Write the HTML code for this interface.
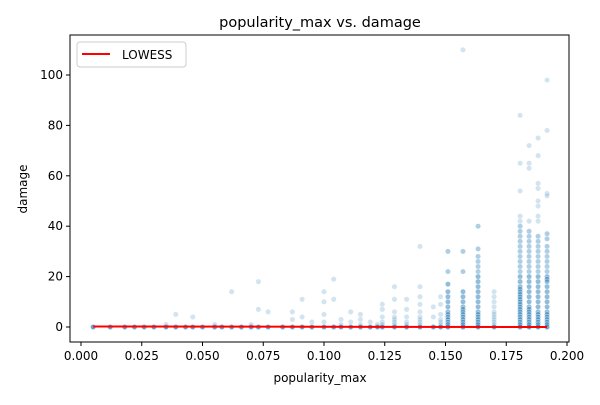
<!DOCTYPE html>
<html><head><meta charset="utf-8"><style>
body{margin:0;background:#fff;font-family:"Liberation Sans","DejaVu Sans",sans-serif}
svg text{font-family:"DejaVu Sans","Liberation Sans",sans-serif}
</style></head><body>
<svg id="c" width="600" height="400" xmlns="http://www.w3.org/2000/svg">
<rect width="600" height="400" fill="#fff"/>
<text x="320" y="27" font-size="14.5" text-anchor="middle">popularity_max vs. damage</text>
<g id="pts"></g><g id="ax"></g>
<rect x="70" y="35" width="499" height="307" fill="none" stroke="#000" stroke-width="1"/>
<text x="320" y="382" font-size="12" text-anchor="middle">popularity_max</text>
<text x="27" y="189" font-size="12" text-anchor="middle" transform="rotate(-90 27 189)">damage</text>
<g>
<rect x="77" y="42" width="109" height="25" rx="3" fill="#fff" stroke="#ccc"/>
<line x1="82" y1="54" x2="110" y2="54" stroke="red" stroke-width="2"/>
<text x="122" y="59" font-size="12">LOWESS</text>
</g>
</svg>
<script>
const xTicks=[0,0.025,0.05,0.075,0.1,0.125,0.15,0.175,0.2];
const xTickLabels=["0.000","0.025","0.050","0.075","0.100","0.125","0.150","0.175","0.200"];
const yTicks=[0,20,40,60,80,100];
const colX=[0.005,0.012,0.018,0.022,0.026,0.03,0.035,0.039,0.043,0.046,0.05,0.055,0.058,0.062,0.066,0.07,0.073,0.077,0.083,0.087,0.091,0.095,0.1,0.104,0.107,0.111,0.115,0.119,0.122,0.124,0.129,0.134,0.1395,0.145,0.148,0.151,0.1572,0.1634,0.170,0.1807,0.1844,0.1881,0.1918];
const colVals=[[0],[0],[0],[0],[0],[0],[0,1],[0,5],[0],[0,4],[0],[0,1],[0],[0,14],[0],[0,1],[0,18,7],[0,6],[0],[0,6,3],[0,11,4],[0,2],[0,14,10,5,2],[0,19,11],[0,3,1],[0,6,2],[0,5,3,1],[0,2],[0,1],[0,9,7,4,2,1],[0,16,11,6,4,3,2,1],[0,11,7,4,2,1],[0,32,16,12,9,6,4,3,2,1],[0,8,4],[0,12,9,5,3,2,1],[0,30,22,17,14,12,10,8,6,5,4,3,2,1],[0,110,30,22,14,12,10,8,7,6,5,4,3,2,1],[0,40,31,28,26,24,22,20,18,16,14,12,10,8,6,5,4,3,2,1],[0,14,12,10,8,6,5,4,3,2,1],[0,84,65,54,44,42,40,38,36,34,32,30,28,26,24,22,20,18,16,15,14,13,12,11,10,9,8,7,6,5,4,3,2,1],[0,72,65,63,42,38,36,34,32,30,28,26,24,22,20,18,16,14,12,10,8,7,6,5,4,3,2,1],[0,75,68,57,55,50,48,44,42,36,34,32,30,28,26,24,22,20,18,16,14,12,10,8,6,5,4,3,2,1],[0,98,78,53,52,37,35,32,30,28,26,24,22,20,19,18,16,14,12,10,8,6,5,4,3,2,1]];
const lowessX=[0.005,0.1918];
const lowessY=[0.2,0.0];
const X=v=>81+v/0.2*486, Y=v=>327-v*2.52;
const ns="http://www.w3.org/2000/svg";
const ax=document.getElementById('ax'), pts=document.getElementById('pts');
function mk(t,a,p){const e=document.createElementNS(ns,t);for(const k in a)e.setAttribute(k,a[k]);p.appendChild(e);return e;}
xTicks.forEach((v,i)=>{
 const g=mk('g',{},ax);
 
 
 mk('line',{x1:X(v),x2:X(v),y1:342,y2:346,stroke:'#000'},g);
 const t=mk('text',{x:X(v),y:360,'font-size':12,'text-anchor':'middle'},g);t.textContent=xTickLabels[i];
});
yTicks.forEach(v=>{
 const g=mk('g',{},ax);
 
 
 mk('line',{x1:66,x2:70,y1:Y(v),y2:Y(v),stroke:'#000'},g);
 const t=mk('text',{x:63,y:Y(v)+4,'font-size':12,'text-anchor':'end'},g);t.textContent=v;
});
colX.forEach((x,i)=>{
 const dense=colVals[i].length>12;
 colVals[i].forEach(v=>{
  const reps=v===0?5:(dense&&v<=20?3:(dense&&v<=40?2:1));
  for(let r=0;r<reps;r++){
   const c=mk('circle',{cx:X(x),cy:Y(v),r:2.6,fill:'#1f77b4','fill-opacity':0.2,stroke:'#fff','stroke-opacity':0.3,'stroke-width':0.5},pts);
   
   
  }
 });
});
const l=mk('polyline',{points:lowessX.map((x,i)=>X(x)+','+Y(lowessY[i])).join(' '),fill:'none',stroke:'red','stroke-width':2},pts);


</script>
</body></html>
